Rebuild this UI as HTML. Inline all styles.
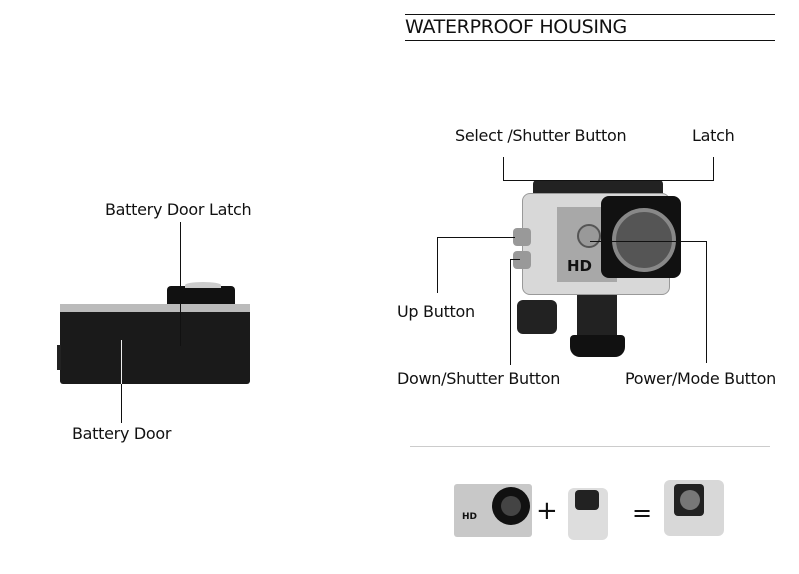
<!DOCTYPE html><html><head><style>
body{margin:0;width:799px;height:574px;background:#fff;position:relative;overflow:hidden;font-family:"DejaVu Sans","Liberation Sans",sans-serif;color:#111}
.a{position:absolute}
.t{position:absolute;font-size:16px;white-space:nowrap;letter-spacing:-0.3px}
.l{position:absolute;background:#111}
</style></head><body>
<div class="l" style="left:405px;top:14px;width:370px;height:1px"></div>
<div class="l" style="left:405px;top:40px;width:370px;height:1px"></div>
<div class="t" style="left:405px;top:16px;font-size:19px">WATERPROOF HOUSING</div>

<div class="a" style="left:167px;top:286px;width:68px;height:20px;background:#111;border-radius:4px 4px 0 0"></div>
<div class="a" style="left:185px;top:282px;width:36px;height:6px;background:#ccc;border-radius:50% 50% 0 0"></div>
<div class="a" style="left:60px;top:304px;width:190px;height:80px;background:#1a1a1a;border-radius:3px"></div>
<div class="a" style="left:60px;top:304px;width:190px;height:8px;background:#bbb"></div>
<div class="a" style="left:57px;top:345px;width:4px;height:25px;background:#222"></div>
<div class="l" style="left:180px;top:222px;width:1px;height:124px"></div>
<div class="l" style="left:121px;top:340px;width:1px;height:83px;background:#eee"></div>
<div class="l" style="left:121px;top:384px;width:1px;height:39px"></div>
<div class="t" style="left:105px;top:200px">Battery Door Latch</div>
<div class="t" style="left:72px;top:424px">Battery Door</div>

<div class="a" style="left:533px;top:180px;width:130px;height:20px;background:#222;border-radius:4px"></div>
<div class="a" style="left:522px;top:193px;width:146px;height:100px;background:#d8d8d8;border:1px solid #999;border-radius:8px"></div>
<div class="a" style="left:557px;top:207px;width:60px;height:75px;background:#a8a8a8"></div>
<div class="a" style="left:567px;top:257px;font-weight:bold;font-size:15px;color:#111">HD</div>
<div class="a" style="left:577px;top:224px;width:20px;height:20px;background:#999;border:2px solid #555;border-radius:50%"></div>
<div class="a" style="left:601px;top:196px;width:80px;height:82px;background:#111;border-radius:8px"></div>
<div class="a" style="left:612px;top:208px;width:56px;height:56px;background:#555;border:4px solid #888;border-radius:50%"></div>
<div class="a" style="left:513px;top:228px;width:18px;height:18px;background:#999;border-radius:4px"></div>
<div class="a" style="left:513px;top:251px;width:18px;height:18px;background:#999;border-radius:4px"></div>
<div class="a" style="left:517px;top:300px;width:40px;height:34px;background:#222;border-radius:6px"></div>
<div class="a" style="left:577px;top:295px;width:40px;height:40px;background:#222"></div>
<div class="a" style="left:570px;top:335px;width:55px;height:22px;background:#111;border-radius:4px 4px 10px 10px"></div>

<div class="l" style="left:503px;top:157px;width:1px;height:24px"></div>
<div class="l" style="left:503px;top:180px;width:211px;height:1px"></div>
<div class="l" style="left:713px;top:157px;width:1px;height:24px"></div>
<div class="l" style="left:437px;top:237px;width:78px;height:1px"></div>
<div class="l" style="left:437px;top:237px;width:1px;height:56px"></div>
<div class="l" style="left:510px;top:259px;width:10px;height:1px"></div>
<div class="l" style="left:510px;top:259px;width:1px;height:106px"></div>
<div class="l" style="left:590px;top:241px;width:116px;height:1px"></div>
<div class="l" style="left:706px;top:241px;width:1px;height:122px"></div>
<div class="t" style="left:455px;top:126px">Select /Shutter Button</div>
<div class="t" style="left:692px;top:126px">Latch</div>
<div class="t" style="left:397px;top:302px">Up Button</div>
<div class="t" style="left:397px;top:369px">Down/Shutter Button</div>
<div class="t" style="left:625px;top:369px">Power/Mode Button</div>

<div class="a" style="left:410px;top:446px;width:360px;height:1px;background:#ccc"></div>

<div class="a" style="left:454px;top:484px;width:78px;height:53px;background:#c8c8c8;border-radius:3px"></div>
<div class="a" style="left:492px;top:487px;width:38px;height:38px;background:#111;border-radius:50%"></div>
<div class="a" style="left:501px;top:496px;width:20px;height:20px;background:#444;border-radius:50%"></div>
<div class="a" style="left:462px;top:512px;font-size:9px;font-weight:bold">HD</div>
<div class="a" style="left:536px;top:496px;font-size:26px;line-height:30px">+</div>
<div class="a" style="left:568px;top:488px;width:40px;height:52px;background:#ddd;border-radius:6px"></div>
<div class="a" style="left:575px;top:490px;width:24px;height:20px;background:#222;border-radius:4px"></div>
<div class="a" style="left:632px;top:498px;font-size:24px;line-height:30px">=</div>
<div class="a" style="left:664px;top:480px;width:60px;height:56px;background:#d8d8d8;border-radius:6px"></div>
<div class="a" style="left:674px;top:484px;width:30px;height:32px;background:#222;border-radius:4px"></div>
<div class="a" style="left:680px;top:490px;width:20px;height:20px;background:#777;border-radius:50%"></div>
</body></html>
